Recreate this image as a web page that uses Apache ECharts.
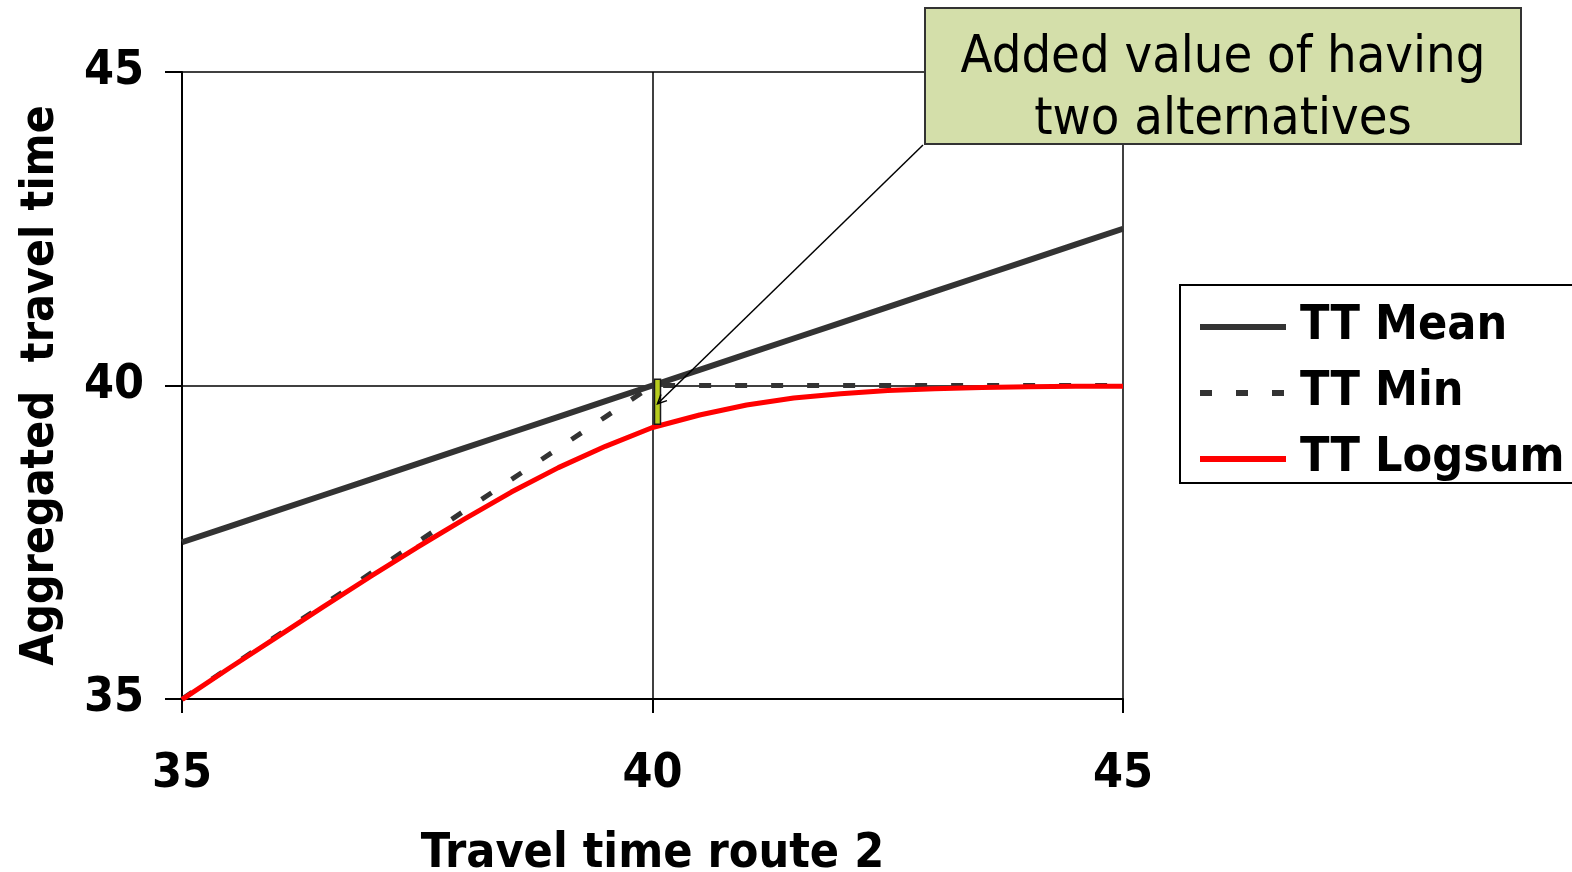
<!DOCTYPE html>
<html>
<head>
<meta charset="utf-8">
<title>Aggregated travel time</title>
<script src="https://cdn.jsdelivr.net/npm/echarts@6/dist/echarts.min.js"></script>
<style>
  html, body { margin: 0; padding: 0; background: #ffffff; overflow: hidden; }
  #chart { width: 1572px; height: 872px; }
</style>
</head>
<body>
<div id="chart"></div>
<script>
// Travel time of route 2 (x) and the aggregated travel time of the two routes
const travelTimeRoute2 = [35, 35.5, 36, 36.5, 37, 37.5, 38, 38.5, 39, 39.5, 40,
                          40.5, 41, 41.5, 42, 42.5, 43, 43.5, 44, 44.5, 45];
const ttMean   = [37.5, 37.75, 38, 38.25, 38.5, 38.75, 39, 39.25, 39.5, 39.75, 40,
                  40.25, 40.5, 40.75, 41, 41.25, 41.5, 41.75, 42, 42.25, 42.5];
const ttMin    = [35, 35.5, 36, 36.5, 37, 37.5, 38, 38.5, 39, 39.5, 40,
                  40, 40, 40, 40, 40, 40, 40, 40, 40, 40];
const ttLogsum = [34.99, 35.49, 35.98, 36.47, 36.95, 37.42, 37.87, 38.3, 38.69, 39.03, 39.33,
                  39.53, 39.69, 39.8, 39.87, 39.92, 39.95, 39.97, 39.98, 39.99, 39.99];
// Gap between TT Min and TT Logsum at x = 40: [x, top, bottom]
const addedValue = [[40, 40.1, 39.38]];
const axisTicks = [35, 40, 45];
const seriesNames = ['TT Mean', 'TT Min', 'TT Logsum'];
const noteText = 'Added value of having\ntwo alternatives';

const pairs = (ys) => travelTimeRoute2.map((x, i) => [x, ys[i]]);
const FONT = '"DejaVu Sans Condensed", "DejaVu Sans", sans-serif';

const chart = echarts.init(document.getElementById('chart'), null, { renderer: 'canvas' });

const boxLeft = 925, boxTop = 8, boxW = 596, boxH = 136;

chart.setOption({
  animation: false,
  backgroundColor: '#ffffff',
  grid: { left: 182, top: 72, width: 941, height: 627,
          containLabel: false, outerBoundsMode: 'none' },
  xAxis: {
    type: 'value',
    min: axisTicks[0], max: axisTicks[axisTicks.length - 1], interval: 5,
    name: 'Travel time route 2',
    nameLocation: 'middle',
    nameGap: 132,
    nameTextStyle: { fontFamily: FONT, fontWeight: 'bold', fontSize: 48, color: '#000' },
    axisLine: { show: true, onZero: false, lineStyle: { color: '#000', width: 2 } },
    axisTick: { show: true, length: 14, lineStyle: { color: '#000', width: 2 } },
    axisLabel: { margin: 52, fontFamily: FONT, fontWeight: 'bold', fontSize: 48, color: '#000' },
    splitLine: { show: true, lineStyle: { color: '#000', width: 1.5 } }
  },
  yAxis: {
    type: 'value',
    min: axisTicks[0], max: axisTicks[axisTicks.length - 1], interval: 5,
    name: 'Aggregated  travel time',
    nameLocation: 'middle',
    nameGap: 118,
    nameTextStyle: { fontFamily: FONT, fontWeight: 'bold', fontSize: 46, color: '#000' },
    axisLine: { show: true, onZero: false, lineStyle: { color: '#000', width: 2 } },
    axisTick: { show: true, length: 17, lineStyle: { color: '#000', width: 2 } },
    axisLabel: { margin: 38, fontFamily: FONT, fontWeight: 'bold', fontSize: 48, color: '#000' },
    splitLine: { show: true, lineStyle: { color: '#000', width: 1.5 } }
  },
  legend: {
    data: seriesNames,
    orient: 'vertical',
    left: 1180, top: 285,
    padding: [18, 10, 0, 17],
    itemWidth: 86, itemHeight: 20,
    itemGap: 18,
    borderColor: '#000', borderWidth: 2,
    backgroundColor: '#fff',
    itemStyle: { opacity: 0 },
    lineStyle: { width: 6 },
    textStyle: { fontFamily: FONT, fontWeight: 'bold', fontSize: 48, color: '#000',
                 lineHeight: 48, padding: [0, 0, 0, 9] }
  },
  series: [
    {
      name: seriesNames[0], type: 'line', data: pairs(ttMean),
      symbol: 'none', color: '#333333',
      lineStyle: { color: '#333333', width: 6 }, z: 2
    },
    {
      name: seriesNames[1], type: 'line', data: pairs(ttMin),
      symbol: 'none', color: '#333333',
      lineStyle: { color: '#333333', width: 5, type: [12, 24] }, z: 3
    },
    {
      name: seriesNames[2], type: 'line', data: pairs(ttLogsum),
      symbol: 'none', color: '#ff0000',
      lineStyle: { color: '#ff0000', width: 5 }, z: 4
    },
    {
      type: 'custom',
      data: addedValue,
      z: 6,
      silent: true,
      renderItem: function (params, api) {
        const top = api.coord([api.value(0), api.value(1)]);
        const bot = api.coord([api.value(0), api.value(2)]);
        const x0 = top[0] + 2, w = 6;
        const midY = (top[1] + bot[1]) / 2 + 2;
        const tip = [x0 + 3, midY];
        const start = [boxLeft - 2, boxTop + boxH + 1];
        const ang = Math.atan2(start[1] - tip[1], start[0] - tip[0]);
        const ah = 10, spread = 0.45;
        return {
          type: 'group',
          children: [
            {
              type: 'rect',
              shape: { x: x0, y: top[1], width: w, height: bot[1] - top[1] },
              style: { fill: '#b7cc1e', stroke: '#1a1a1a', lineWidth: 1.5 }
            },
            {
              type: 'line',
              shape: { x1: start[0], y1: start[1], x2: tip[0], y2: tip[1] },
              style: { stroke: '#000', lineWidth: 1.5 }
            },
            {
              type: 'polyline',
              shape: { points: [
                [tip[0] + ah * Math.cos(ang - spread), tip[1] + ah * Math.sin(ang - spread)],
                tip,
                [tip[0] + ah * Math.cos(ang + spread), tip[1] + ah * Math.sin(ang + spread)]
              ] },
              style: { stroke: '#000', lineWidth: 1.5, fill: null }
            }
          ]
        };
      }
    }
  ],
  graphic: [
    {
      type: 'rect',
      z: 100,
      shape: { x: boxLeft, y: boxTop, width: boxW, height: boxH },
      style: { fill: '#d4dfaa', stroke: '#333', lineWidth: 2 }
    },
    {
      type: 'text',
      z: 101,
      x: boxLeft + boxW / 2, y: boxTop + boxH / 2 + 13,
      style: {
        text: noteText,
        fontFamily: FONT, fontSize: 52, lineHeight: 62,
        fill: '#000', align: 'center', verticalAlign: 'middle'
      }
    }
  ]
});
</script>
</body>
</html>
